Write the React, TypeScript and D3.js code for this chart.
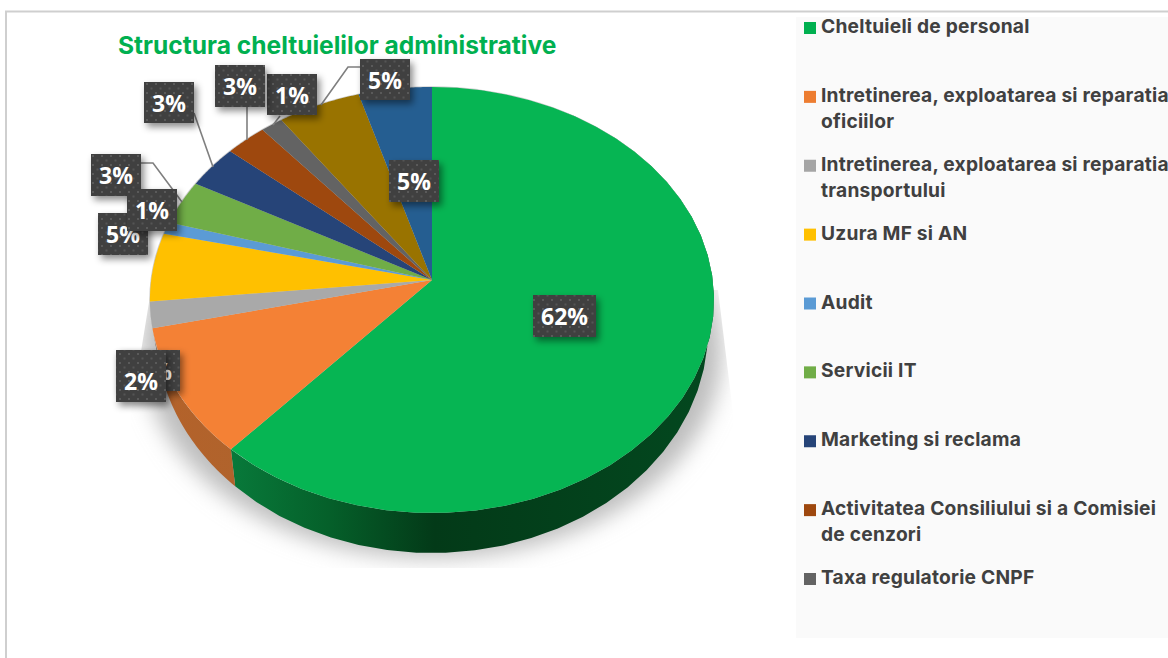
import React from "react";
import * as d3 from "d3";

const title = "Structura cheltuielilor administrative";
const sliceNames = ["Cheltuieli de personal","Intretinerea oficii","Intretinerea transport","Uzura MF si AN","Audit","Servicii IT","Marketing si reclama","Activitatea Consiliului","Taxa regulatorie CNPF","Alte 1","Alte 2"];
const sliceValues = [61.6, 9.8, 2.0, 5.2, 0.9, 3.4, 3.3, 2.6, 1.4, 5.2, 4.6];
const sliceColors = ["#06b553","#f48135","#a9a9a9","#ffc000","#5b9bd5","#70ad47","#264478","#9e480e","#636363","#997300","#255e91"];
const sideColors = ["#05602a","#b4622a","#7d7d7d","#bb8c00","#44729c","#527f34","#1b3258","#74350a","#494949","#705400","#1b4569"];

const legendLines = [
  ["Cheltuieli de personal"],
  ["Intretinerea, exploatarea si reparatia", "oficiilor"],
  ["Intretinerea, exploatarea si reparatia", "transportului"],
  ["Uzura MF si AN"],
  ["Audit"],
  ["Servicii IT"],
  ["Marketing si reclama"],
  ["Activitatea Consiliului si a Comisiei", "de cenzori"],
  ["Taxa regulatorie CNPF"],
];
const legendColors = ["#00b050","#ed7d31","#a5a5a5","#ffc000","#5b9bd5","#70ad47","#264478","#9e480e","#636363"];

// draw order keeps the overlaps of the reference: [text, x, y, w, h]
const labelBoxes: [string, number, number, number, number][] = [
  ["62%", 533, 295, 63, 42],
  ["5%", 389, 160, 50, 42],
  ["5%", 360, 59, 50, 41],
  ["1%", 267, 74, 50, 41],
  ["3%", 215, 65, 50, 42],
  ["3%", 144, 82, 50, 41],
  ["3%", 91, 154, 50, 42],
  ["5%", 98, 213, 50, 42],
  ["1%", 127, 189, 50, 42],
  ["10%", 117, 350, 63, 41],
  ["2%", 116, 350, 50, 52],
];
const leaderLines: [number, number][][] = [
  [[194, 113], [213, 167]],
  [[247, 107], [247, 140]],
  [[280, 116], [273, 125]],
  [[360, 67], [348, 67], [321, 105]],
  [[141, 163], [153, 163], [182, 202]],
];

// Pie geometry: a disc seen in perspective
const apex = { x: 432, y: 280 };
const topR = 193, bottomR = 233;
const k = (topR - bottomR) / (topR + bottomR);
const a = topR * (1 - k);
const c = 280.8;
const project = (theta: number): [number, number] => {
  const u = Math.sin(theta), v = -Math.cos(theta);
  const w = 1 + k * v;
  return [apex.x + (c * u) / w, apex.y + (a * v) / w];
};
const lowerRim = ([x, y]: [number, number]): [number, number] => [
  apex.x + ((x - apex.x) * 276) / 282,
  330 + ((y - 300) * 223) / 213,
];

const arcs = d3.pie<number>().sort(null)(sliceValues);
const line = d3.line<[number, number]>();
const sample = (a0: number, a1: number) =>
  d3.range(0, 41).map((i) => project(a0 + ((a1 - a0) * i) / 40));

export default function App() {
  const legendY = d3.scaleLinear().domain([0, 8]).range([26, 577]);
  return (
    <svg
      width={1168}
      height={658}
      viewBox="0 0 1168 658"
      style={{ position: "absolute", left: 0, top: 0, display: "block", background: "#fff" }}
    >
      <defs>
        <linearGradient id="greenSide" gradientUnits="userSpaceOnUse" x1={232} x2={714} y1={0} y2={0}>
          <stop offset="0" stopColor="#08793a" />
          <stop offset="0.2" stopColor="#05602a" />
          <stop offset="0.42" stopColor="#033a18" />
          <stop offset="1" stopColor="#03481f" />
        </linearGradient>
        <linearGradient id="orangeSide" gradientUnits="userSpaceOnUse" x1={155} x2={237} y1={0} y2={0}>
          <stop offset="0" stopColor="#b4622a" />
          <stop offset="1" stopColor="#b0632c" />
        </linearGradient>
        <filter id="blurShadow" x="-20%" y="-20%" width="140%" height="140%">
          <feGaussianBlur stdDeviation="11" />
        </filter>
        <filter id="boxShadow" x="-30%" y="-30%" width="170%" height="170%">
          <feDropShadow dx="3" dy="4" stdDeviation="3.5" floodColor="#000" floodOpacity="0.45" />
        </filter>
        <pattern id="dots" width="9" height="9" patternUnits="userSpaceOnUse">
          <rect width="9" height="9" fill="#404040" />
          <rect x="2" y="2" width="2" height="2" fill="#5a5a5a" />
          <rect x="6.5" y="6.5" width="2" height="2" fill="#555555" />
        </pattern>
        <clipPath id="shadowClip">
          <path d="M718,290L733,413L733,568L131,568L131,413L151,290Z" />
        </clipPath>
      </defs>

      <path d="M6,658V11.5H1168" fill="none" stroke="#cfcfcf" strokeWidth={2} />
      <rect x={796} y={17} width={372} height={621} fill="#fafafa" />

      <text x={118} y={54} fontFamily="Inter, 'Open Sans', sans-serif" fontWeight={700} fontSize={24.55} fill="#00b050">
        {title}
      </text>

      <g clipPath="url(#shadowClip)">
        <ellipse cx={432} cy={350} rx={290} ry={208} fill="#bdbdbd" filter="url(#blurShadow)" />
      </g>

      {arcs.map((d, i) => {
        const top = sample(d.startAngle, d.endAngle);
        const bottom = top.map(lowerRim).reverse();
        return (
          <path
            key={"side" + i}
            d={(line([...top, ...bottom]) ?? "") + "Z"}
            fill={i === 0 ? "url(#greenSide)" : i === 1 ? "url(#orangeSide)" : sideColors[i]}
          />
        );
      })}

      <ellipse cx={431.3} cy={299.3} rx={282} ry={213} fill="#cfcfcf" />
      {arcs.map((d, i) => (
        <path
          key={sliceNames[i]}
          d={(line([[apex.x, apex.y], ...sample(d.startAngle, d.endAngle)]) ?? "") + "Z"}
          fill={sliceColors[i]}
        />
      ))}

      {leaderLines.map((pts, i) => (
        <path key={"lead" + i} d={line(pts) ?? ""} fill="none" stroke="#7f7f7f" strokeWidth={1.6} />
      ))}

      {labelBoxes.map(([text, x, y, w, h], i) => (
        <g key={"label" + i}>
          <rect x={x} y={y} width={w} height={h} fill="url(#dots)" filter="url(#boxShadow)" />
          <text
            x={x + w / 2}
            y={y + 1 + Math.min(h, 42) / 2 + (h > 42 ? 10 : 0)}
            dy="0.36em"
            textAnchor="middle"
            fontFamily="'Open Sans', sans-serif"
            fontWeight={700}
            fontSize={23}
            fill="#fff"
          >
            {text}
          </text>
        </g>
      ))}

      {legendLines.map((lines, i) => (
        <g key={"legend" + i}>
          <rect x={804} y={legendY(i) - 4} width={12} height={12} fill={legendColors[i]} />
          {lines.map((t, j) => (
            <text
              key={j}
              x={821}
              y={legendY(i) + j * 26 + 7}
              fontFamily="Inter, 'Open Sans', sans-serif"
              fontWeight={700}
              fontSize={19.2}
              letterSpacing={0.22}
              fill="#404040"
            >
              {t}
            </text>
          ))}
        </g>
      ))}
    </svg>
  );
}
